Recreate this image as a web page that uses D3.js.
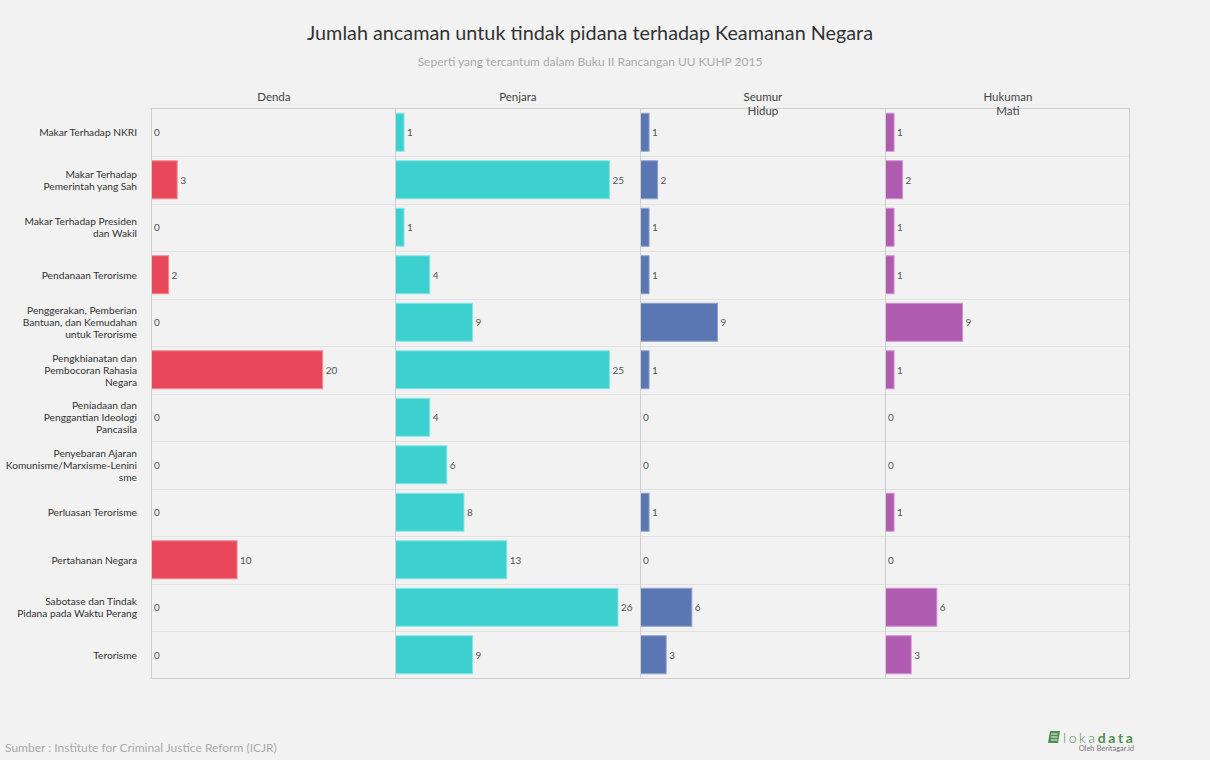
<!DOCTYPE html>
<html>
<head>
<meta charset="utf-8">
<script src="https://cdn.jsdelivr.net/npm/d3@7"></script>
<style>
  html, body { margin: 0; padding: 0; background: #f2f2f2; }
  svg { display: block; font-family: Lato, "Open Sans", sans-serif; }
</style>
</head>
<body>
<svg id="chart" width="1210" height="760"></svg>
<script>
const title = "Jumlah ancaman untuk tindak pidana terhadap Keamanan Negara";
const subtitle = "Seperti yang tercantum dalam Buku II Rancangan UU KUHP 2015";
const source = "Sumber : Institute for Criminal Justice Reform (ICJR)";

const categories = [
  "Makar Terhadap NKRI",
  "Makar Terhadap Pemerintah yang Sah",
  "Makar Terhadap Presiden dan Wakil",
  "Pendanaan Terorisme",
  "Penggerakan, Pemberian Bantuan, dan Kemudahan untuk Terorisme",
  "Pengkhianatan dan Pembocoran Rahasia Negara",
  "Peniadaan dan Penggantian Ideologi Pancasila",
  "Penyebaran Ajaran Komunisme/Marxisme-Leninisme",
  "Perluasan Terorisme",
  "Pertahanan Negara",
  "Sabotase dan Tindak Pidana pada Waktu Perang",
  "Terorisme"
];
const categoryLines = [
  ["Makar Terhadap NKRI"],
  ["Makar Terhadap", "Pemerintah yang Sah"],
  ["Makar Terhadap Presiden", "dan Wakil"],
  ["Pendanaan Terorisme"],
  ["Penggerakan, Pemberian", "Bantuan, dan Kemudahan", "untuk Terorisme"],
  ["Pengkhianatan dan", "Pembocoran Rahasia", "Negara"],
  ["Peniadaan dan", "Penggantian Ideologi", "Pancasila"],
  ["Penyebaran Ajaran", "Komunisme/Marxisme-Lenini", "sme"],
  ["Perluasan Terorisme"],
  ["Pertahanan Negara"],
  ["Sabotase dan Tindak", "Pidana pada Waktu Perang"],
  ["Terorisme"]
];

const seriesNames = ["Denda", "Penjara", "Seumur Hidup", "Hukuman Mati"];
const seriesHeaderLines = [["Denda"], ["Penjara"], ["Seumur", "Hidup"], ["Hukuman", "Mati"]];
const dendaValues   = [0, 3, 0, 2, 0, 20, 0, 0, 0, 10, 0, 0];
const penjaraValues = [1, 25, 1, 4, 9, 25, 4, 6, 8, 13, 26, 9];
const seumurHidupValues = [1, 2, 1, 1, 9, 1, 0, 0, 1, 0, 6, 3];
const hukumanMatiValues = [1, 2, 1, 1, 9, 1, 0, 0, 1, 0, 6, 3];
const seriesColors = ["#e8485a", "#3cd1cf", "#5b77b3", "#ae5bb0"];
const seriesStrokes = ["#f28a96", "#8ae6e4", "#8fa2cc", "#cf93d0"];

const seriesValues = [dendaValues, penjaraValues, seumurHidupValues, hukumanMatiValues];

const svg = d3.select("#chart");
const W = 1210, H = 760;
svg.append("rect").attr("width", W).attr("height", H).attr("fill", "#f2f2f2");

const plotLeft = 150.5, plotRight = 1129.5, plotTop = 108.5, plotBottom = 678.5;

// Title
svg.append("text").attr("x", 590).attr("y", 40).attr("text-anchor", "middle")
  .attr("font-size", 19.8).attr("fill", "#333").text(title);
svg.append("text").attr("x", 590).attr("y", 66).attr("text-anchor", "middle")
  .attr("font-size", 12).attr("fill", "#aaa").text(subtitle);

const panelScale = d3.scaleBand().domain(seriesNames).range([plotLeft, plotRight]).paddingInner(0).paddingOuter(0);
const y = d3.scaleBand().domain(categories).range([plotTop, plotBottom]).paddingInner(0.2).paddingOuter(0.1);
const rowScale = d3.scaleBand().domain(categories).range([plotTop, plotBottom]);

const maxVal = d3.max(seriesValues.flat());
const x = d3.scaleLinear().domain([0, maxVal * 1.1]).range([0, panelScale.bandwidth()]);

// Row separators
const g = svg.append("g");
g.selectAll("line.row").data(categories.slice(1)).join("line")
  .attr("x1", plotLeft).attr("x2", plotRight)
  .attr("y1", d => Math.round(rowScale(d)) + 0.5).attr("y2", d => Math.round(rowScale(d)) + 0.5)
  .attr("stroke", "#e2e2e2").attr("stroke-width", 1);

// Frame
g.append("line").attr("x1", plotLeft).attr("x2", plotRight).attr("y1", plotTop).attr("y2", plotTop)
  .attr("stroke", "#cfcfcf");
g.append("line").attr("x1", plotLeft).attr("x2", plotRight).attr("y1", plotBottom).attr("y2", plotBottom)
  .attr("stroke", "#cfcfcf");
g.append("line").attr("x1", plotRight).attr("x2", plotRight).attr("y1", plotTop).attr("y2", plotBottom)
  .attr("stroke", "#cfcfcf");

// Row labels
categories.forEach((c, i) => {
  const lines = categoryLines[i];
  const cy = rowScale(c) + rowScale.bandwidth() / 2;
  const lh = 12;
  const t = svg.append("text").attr("text-anchor", "end").attr("font-size", 10.2).attr("fill", "#333");
  lines.forEach((l, j) => {
    t.append("tspan").attr("x", 137)
      .attr("y", cy + (j - (lines.length - 1) / 2) * lh + 4).text(l);
  });
});

// Panels
seriesNames.forEach((s, si) => {
  const px = Math.round(panelScale(s)) + 0.5;
  const pg = svg.append("g").attr("transform", `translate(${px},0)`);
  const vals = seriesValues[si];
  pg.selectAll("rect").data(vals.map((v, i) => ({ v, c: categories[i] })).filter(d => d.v > 0)).join("rect")
    .attr("x", 0)
    .attr("y", d => y(d.c))
    .attr("width", d => x(d.v))
    .attr("height", y.bandwidth())
    .attr("fill", seriesColors[si])
    .attr("stroke", seriesStrokes[si]).attr("stroke-width", 1);
  pg.selectAll("text.val").data(vals.map((v, i) => ({ v, c: categories[i] }))).join("text")
    .attr("class", "val")
    .attr("x", d => (d.v > 0 ? x(d.v) + 3 : 2.5))
    .attr("y", d => y(d.c) + y.bandwidth() / 2 + 4)
    .attr("font-size", 10).attr("fill", "#555").text(d => d.v);
  // panel left border
  pg.append("line").attr("x1", 0).attr("x2", 0).attr("y1", plotTop).attr("y2", plotBottom)
    .attr("stroke", "#cfcfcf");
  // header
  const hx = panelScale.bandwidth() / 2;
  const ht = pg.append("text").attr("text-anchor", "middle").attr("font-size", 11.5).attr("fill", "#444");
  seriesHeaderLines[si].forEach((l, j) => {
    ht.append("tspan").attr("x", hx).attr("y", 101 + j * 14).text(l);
  });
});

// Source
svg.append("text").attr("x", 5).attr("y", 752).attr("font-size", 12).attr("fill", "#aaa").text(source);

// Logo
const logo = svg.append("g").attr("transform", "translate(1048,731)");
logo.append("path").attr("d", "M2,0 L12,0 L10,12 L0,12 Z").attr("fill", "#4f8f4f");
[3, 6, 9].forEach(yy => logo.append("line").attr("x1", 3).attr("x2", 9.5).attr("y1", yy).attr("y2", yy)
  .attr("stroke", "#f2f2f2").attr("stroke-width", 1));
const lt = logo.append("text").attr("x", 15).attr("y", 11.5).attr("font-size", 14).attr("fill", "#4f8f4f")
  .attr("letter-spacing", 2.6);
lt.append("tspan").attr("font-weight", 300).text("loka");
lt.append("tspan").attr("font-weight", 700).text("data");
logo.append("text").attr("x", 86).attr("y", 20).attr("text-anchor", "end").attr("font-size", 7.5)
  .attr("fill", "#777").text("Oleh Beritagar.id");
</script>
</body>
</html>
